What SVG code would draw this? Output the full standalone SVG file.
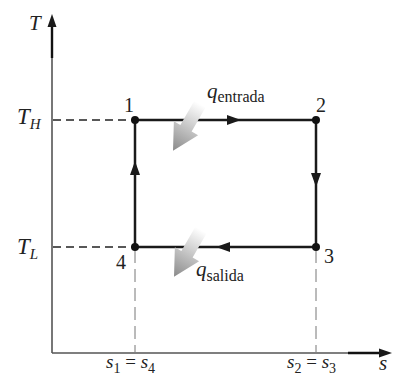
<svg xmlns="http://www.w3.org/2000/svg" width="398" height="381" viewBox="0 0 398 381">
<style>
.t{font-family:"Liberation Serif","Times New Roman",serif;fill:#222}
.i{font-style:italic}
.cyc{stroke:#1a1a1a;stroke-width:2.5;fill:none}
.ax{stroke:#555;stroke-width:1.6;fill:none}
.axb{stroke:#111;stroke-width:2.4;fill:none}
.dh{stroke:#222;stroke-width:1.4;stroke-dasharray:8 5;fill:none}
.dv{stroke:#777;stroke-width:1;stroke-dasharray:13 6;fill:none}
.ah{fill:#1a1a1a}
</style>
<defs>
<linearGradient id="g" x1="0" y1="0" x2="1" y2="0">
<stop offset="0" stop-color="#ffffff"/>
<stop offset="1" stop-color="#8a8a8a"/>
</linearGradient>
<path id="fat" d="M0,-6.5 L28,-6.5 L28,-14 L54,0 L28,14 L28,6.5 L0,6.5 Z" fill="url(#g)"/>
</defs>
<g id="axes">
<line class="ax" x1="52" y1="353" x2="52" y2="55"/>
<line class="axb" x1="52" y1="58" x2="52" y2="24"/>
<path class="ah" d="M52,14 L56.5,27 L47.5,27 Z"/>
<line class="ax" x1="52" y1="353" x2="350" y2="353"/>
<line class="axb" x1="348" y1="353" x2="382" y2="353"/>
<path class="ah" d="M392,353 L379,357.5 L379,348.5 Z"/>
<text class="t i" x="29" y="30" font-size="21">T</text>
<text class="t i" x="379" y="370" font-size="21">s</text>
</g>
<g id="guides">
<line class="dh" x1="53" y1="120" x2="133" y2="120"/>
<line class="dh" x1="53" y1="247" x2="133" y2="247"/>
<line class="dv" x1="135" y1="250" x2="135" y2="352"/>
<line class="dv" x1="316" y1="250" x2="316" y2="352"/>
<text class="t i" x="17" y="124" font-size="23">T<tspan font-size="15" dy="5">H</tspan></text>
<text class="t i" x="17" y="254" font-size="23">T<tspan font-size="15" dy="5">L</tspan></text>
<text class="t" x="106" y="368" font-size="19"><tspan class="i">s</tspan><tspan font-size="14" dy="5">1</tspan><tspan dy="-5"> = </tspan><tspan class="i">s</tspan><tspan font-size="14" dy="5">4</tspan></text>
<text class="t" x="287" y="368" font-size="19"><tspan class="i">s</tspan><tspan font-size="14" dy="5">2</tspan><tspan dy="-5"> = </tspan><tspan class="i">s</tspan><tspan font-size="14" dy="5">3</tspan></text>
</g>
<g id="connectors">
<line class="cyc" x1="135" y1="120" x2="316" y2="120"/>
<line class="cyc" x1="316" y1="120" x2="316" y2="247"/>
<line class="cyc" x1="316" y1="247" x2="135" y2="247"/>
<line class="cyc" x1="135" y1="247" x2="135" y2="120"/>
<path class="ah" d="M241,120 L227,115 L227,125 Z"/>
<path class="ah" d="M316,187 L311,173 L321,173 Z"/>
<path class="ah" d="M216,247 L230,242 L230,252 Z"/>
<path class="ah" d="M135,161 L130,175 L140,175 Z"/>
</g>
<g id="node1"><circle cx="135" cy="120" r="4" fill="#111"/><text class="t" x="124" y="112" font-size="20">1</text></g>
<g id="node2"><circle cx="316" cy="120" r="4" fill="#111"/><text class="t" x="316" y="112" font-size="20">2</text></g>
<g id="node3"><circle cx="316" cy="247" r="4" fill="#111"/><text class="t" x="324" y="263" font-size="20">3</text></g>
<g id="node4"><circle cx="135" cy="247" r="4" fill="#111"/><text class="t" x="116" y="269" font-size="20">4</text></g>
<g id="heat-in">
<use href="#fat" transform="translate(200,104) rotate(120)"/>
<text class="t" x="207" y="98" font-size="21"><tspan class="i">q</tspan><tspan font-size="16" dy="4">entrada</tspan></text>
</g>
<g id="heat-out">
<use href="#fat" transform="translate(201,230) rotate(120)"/>
<text class="t" x="196" y="276" font-size="21"><tspan class="i">q</tspan><tspan font-size="16" dy="5">salida</tspan></text>
</g>
</svg>
